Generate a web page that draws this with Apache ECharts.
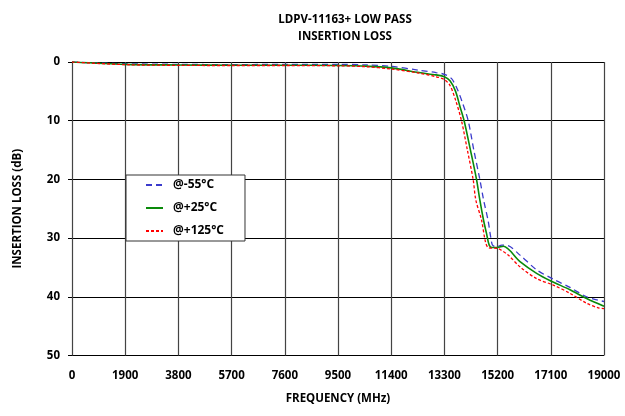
<!DOCTYPE html>
<html><head><meta charset="utf-8">
<script src="https://cdn.jsdelivr.net/npm/echarts@6/dist/echarts.min.js"></script>
<style>html,body{margin:0;padding:0;background:#fff}#c{width:625px;height:416px}</style>
</head><body><div id="c"></div>
<script>
var xTicks = [0,1900,3800,5700,7600,9500,11400,13300,15200,17100,19000];
var yTicks = [0,10,20,30,40,50];
var seriesNames = ['@-55°C','@+25°C','@+125°C'];
var cold = [[0,0],[500,0.1],[1900,0.3],[3800,0.4],[5700,0.45],[7600,0.4],[9500,0.4],[10500,0.5],[11400,0.75],[12400,1.4],[13000,1.8],[13300,2.1],[13550,2.8],[13750,4.5],[13950,7.0],[14150,10],[14350,15],[14565,20],[14700,23.5],[14860,27],[14960,30],[15020,31.2],[15150,31.5],[15350,31.2],[15577,31.3],[16000,32.9],[16593,35.4],[17188,37.0],[17784,38.4],[18380,40.0],[19000,40.8]];
var room = [[0,0],[1900,0.4],[3800,0.5],[5700,0.55],[7600,0.55],[9500,0.6],[10500,0.7],[11400,1.0],[12400,1.8],[13000,2.2],[13300,2.5],[13500,3.2],[13700,5.0],[13850,7.5],[14004,10],[14230,15],[14447,20],[14565,23.5],[14700,27],[14804,29.2],[14900,31.2],[15000,31.6],[15200,31.6],[15400,31.4],[16000,34.0],[16593,36.0],[17100,37.3],[17784,38.8],[18380,40.3],[19000,41.6]];
var hot = [[0,0],[1900,0.45],[3800,0.57],[5700,0.6],[7600,0.6],[9500,0.65],[10500,0.8],[11400,1.2],[12400,1.9],[13000,2.5],[13300,3.0],[13500,4.0],[13700,6.5],[13910,10],[14120,15],[14326,20],[14422,23.5],[14625,26.9],[14760,30.5],[14862,31.6],[15220,31.8],[15577,32.9],[16000,34.9],[16593,36.9],[17188,38.0],[17784,39.4],[18380,41.1],[18800,41.9],[19000,42.0]];

var font = '"Open Sans", sans-serif';
var chart = echarts.init(document.getElementById('c'));
chart.setOption({
  animation:false,
  title:{text:'LDPV-11163+ LOW PASS\nINSERTION LOSS', left:340, top:6, textAlign:'center',
    textStyle:{fontFamily:font,fontWeight:'bold',fontSize:11.5,lineHeight:17,color:'#000'}},
  grid:{left:72,right:21,top:62,bottom:60.5},
  legend:{orient:'vertical', left:126, top:175, itemWidth:17, itemHeight:12, itemGap:11,
    padding:[4,21,4,19],
    backgroundColor:'#fff', borderColor:'#333', borderWidth:1, borderRadius:0,
    itemStyle:{opacity:0},
    textStyle:{fontFamily:font,fontWeight:'bold',fontSize:12,color:'#000',padding:[0,0,0,5]},
    data:seriesNames},
  xAxis:{type:'value',min:0,max:19000,interval:1900,
    name:'FREQUENCY (MHz)',nameLocation:'middle',nameGap:37,
    nameTextStyle:{fontFamily:font,fontWeight:'bold',fontSize:11.5,color:'#000'},
    axisLine:{show:false},axisTick:{show:false},
    axisLabel:{fontFamily:font,fontWeight:'bold',fontSize:11.5,color:'#000',margin:14,
      formatter:function(v){return xTicks.indexOf(v)>=0?String(v):'';}},
    splitLine:{lineStyle:{color:'#444',width:1.2}}},
  yAxis:{type:'value',min:0,max:50,interval:10,inverse:true,
    name:'INSERTION LOSS (dB)',nameLocation:'middle',nameGap:48,
    nameTextStyle:{fontFamily:font,fontWeight:'bold',fontSize:11.5,color:'#000'},
    axisLine:{show:false},axisTick:{show:true,length:4,lineStyle:{color:'#000'}},
    axisLabel:{fontFamily:font,fontWeight:'bold',fontSize:11.5,color:'#000',margin:12,
      formatter:function(v){return yTicks.indexOf(v)>=0?String(v):'';}},
    splitLine:{lineStyle:{color:'#000',width:1}}},
  series:[
    {name:seriesNames[0],type:'line',data:cold,smooth:0.3,symbol:'none',
      lineStyle:{color:'#3b3bcc',width:1.3,type:[6,4]},itemStyle:{color:'#3b3bcc'}},
    {name:seriesNames[1],type:'line',data:room,smooth:0.3,symbol:'none',
      lineStyle:{color:'#0a8a0a',width:1.6},itemStyle:{color:'#0a8a0a'}},
    {name:seriesNames[2],type:'line',data:hot,smooth:0.3,symbol:'none',
      lineStyle:{color:'#ff0000',width:1.3,type:[3,2]},itemStyle:{color:'#ff0000'}}
  ]
});
</script></body></html>
